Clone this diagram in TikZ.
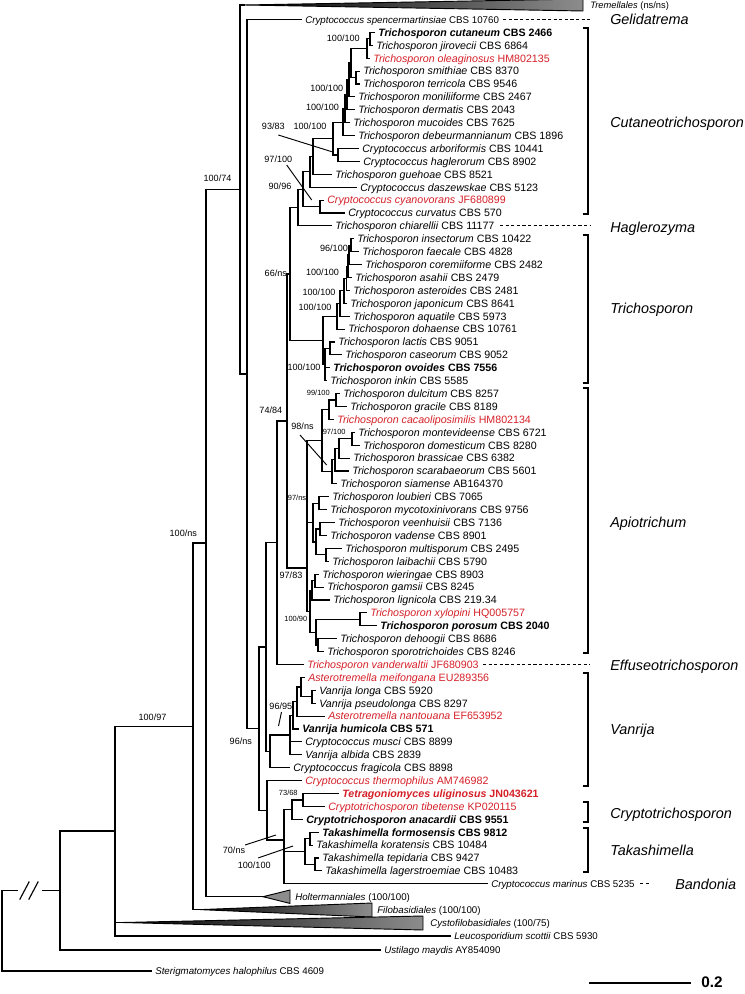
\documentclass[tikz,border=0pt]{standalone}
\usepackage{fontspec}
\setmainfont{Liberation Sans}
\usetikzlibrary{calc}
\definecolor{tred}{RGB}{213,32,40}
\newcommand\Lf[5][]{\coordinate (#2) at (#3,#4);\node[tl,#1] (#2l) at ([xshift=3pt,yshift=-2.9pt]#2) {#5};}
\newcommand\tn[2]{\textit{#1} #2}
\tikzset{
  tl/.style={anchor=base west,inner sep=0pt,font=\fontsize{8}{9.6}\selectfont},
  bf/.style={font=\fontsize{8}{9.6}\selectfont\bfseries},
  rd/.style={text=tred},
  sm/.style={font=\fontsize{7.3}{9}\selectfont},
  br/.style={line width=0.85pt,line cap=rect},
  bs/.style={inner sep=0pt,font=\fontsize{6.8}{8}\selectfont},
  bss/.style={inner sep=0pt,font=\fontsize{5.6}{7}\selectfont},
  ld/.style={line width=0.7pt},
  cl/.style={anchor=base west,inner sep=0pt,font=\fontsize{10.8}{12}\selectfont\itshape},
  dsh/.style={line width=0.6pt,dash pattern=on 2.4pt off 1.8pt},
  brk/.style={line width=0.8pt},
  tri/.style={line width=0.7pt,line join=miter},
}
\begin{document}
\begin{tikzpicture}[x=0.75pt,y=-0.75pt]
\useasboundingbox (0,0) rectangle (744,994);
% ---------- tips ----------
\Lf[sm]{t02}{301}{19.5}{\tn{Cryptococcus spencermartinsiae}{CBS 10760}}
\Lf[bf]{t03}{374}{32.4}{\tn{Trichosporon cutaneum}{CBS 2466}}
\Lf{t04}{372}{45.3}{\tn{Trichosporon jirovecii}{CBS 6864}}
\Lf[rd]{t05}{369}{58.2}{\tn{Trichosporon oleaginosus}{HM802135}}
\Lf{t06}{359}{71.1}{\tn{Trichosporon smithiae}{CBS 8370}}
\Lf{t07}{359}{84.0}{\tn{Trichosporon terricola}{CBS 9546}}
\Lf{t08}{354}{96.9}{\tn{Trichosporon moniliiforme}{CBS 2467}}
\Lf{t09}{354}{109.8}{\tn{Trichosporon dermatis}{CBS 2043}}
\Lf{t10}{349}{122.7}{\tn{Trichosporon mucoides}{CBS 7625}}
\Lf{t11}{354}{135.6}{\tn{Trichosporon debeurmannianum}{CBS 1896}}
\Lf{t12}{358}{148.5}{\tn{Cryptococcus arboriformis}{CBS 10441}}
\Lf{t13}{359}{161.4}{\tn{Cryptococcus haglerorum}{CBS 8902}}
\Lf{t14}{331}{174.3}{\tn{Trichosporon guehoae}{CBS 8521}}
\Lf{t15}{356}{187.2}{\tn{Cryptococcus daszewskae}{CBS 5123}}
\Lf[rd]{t16}{323}{200.1}{\tn{Cryptococcus cyanovorans}{JF680899}}
\Lf{t17}{344}{213.0}{\tn{Cryptococcus curvatus}{CBS 570}}
\Lf{t18}{331}{225.9}{\tn{Trichosporon chiarellii}{CBS 11177}}
\Lf{t19}{353}{238.8}{\tn{Trichosporon insectorum}{CBS 10422}}
\Lf{t20}{358}{251.7}{\tn{Trichosporon faecale}{CBS 4828}}
\Lf{t21}{361}{264.6}{\tn{Trichosporon coremiiforme}{CBS 2482}}
\Lf{t22}{351}{277.5}{\tn{Trichosporon asahii}{CBS 2479}}
\Lf{t23}{349}{290.4}{\tn{Trichosporon asteroides}{CBS 2481}}
\Lf{t24}{346}{303.3}{\tn{Trichosporon japonicum}{CBS 8641}}
\Lf{t25}{349}{316.2}{\tn{Trichosporon aquatile}{CBS 5973}}
\Lf{t26}{344}{329.1}{\tn{Trichosporon dohaense}{CBS 10761}}
\Lf{t27}{334}{342.0}{\tn{Trichosporon lactis}{CBS 9051}}
\Lf{t28}{341}{354.9}{\tn{Trichosporon caseorum}{CBS 9052}}
\Lf[bf]{t29}{329}{367.8}{\tn{Trichosporon ovoides}{CBS 7556}}
\Lf{t30}{326}{380.7}{\tn{Trichosporon inkin}{CBS 5585}}
\Lf{t31}{339}{393.6}{\tn{Trichosporon dulcitum}{CBS 8257}}
\Lf{t32}{346}{406.5}{\tn{Trichosporon gracile}{CBS 8189}}
\Lf[rd]{t33}{333}{419.4}{\tn{Trichosporon cacaoliposimilis}{HM802134}}
\Lf{t34}{354}{432.3}{\tn{Trichosporon montevideense}{CBS 6721}}
\Lf{t35}{359}{445.2}{\tn{Trichosporon domesticum}{CBS 8280}}
\Lf{t36}{349}{458.1}{\tn{Trichosporon brassicae}{CBS 6382}}
\Lf{t37}{348}{471.0}{\tn{Trichosporon scarabaeorum}{CBS 5601}}
\Lf{t38}{336}{483.9}{\tn{Trichosporon siamense}{AB164370}}
\Lf{t39}{328}{496.8}{\tn{Trichosporon loubieri}{CBS 7065}}
\Lf{t40}{326}{509.7}{\tn{Trichosporon mycotoxinivorans}{CBS 9756}}
\Lf{t41}{334}{522.6}{\tn{Trichosporon veenhuisii}{CBS 7136}}
\Lf{t42}{326}{535.5}{\tn{Trichosporon vadense}{CBS 8901}}
\Lf{t43}{341}{548.4}{\tn{Trichosporon multisporum}{CBS 2495}}
\Lf{t44}{328}{561.3}{\tn{Trichosporon laibachii}{CBS 5790}}
\Lf{t45}{318}{574.2}{\tn{Trichosporon wieringae}{CBS 8903}}
\Lf{t46}{323}{587.1}{\tn{Trichosporon gamsii}{CBS 8245}}
\Lf{t47}{329}{600.0}{\tn{Trichosporon lignicola}{CBS 219.34}}
\Lf[rd]{t48}{366}{612.9}{\tn{Trichosporon xylopini}{HQ005757}}
\Lf[bf]{t49}{376}{625.8}{\tn{Trichosporon porosum}{CBS 2040}}
\Lf{t50}{336}{638.7}{\tn{Trichosporon dehoogii}{CBS 8686}}
\Lf{t51}{323}{651.6}{\tn{Trichosporon sporotrichoides}{CBS 8246}}
\Lf[rd]{t52}{303}{664.5}{\tn{Trichosporon vanderwaltii}{JF680903}}
\Lf[rd]{t53}{304}{677.4}{\tn{Asterotremella meifongana}{EU289356}}
\Lf{t54}{315}{690.3}{\tn{Vanrija longa}{CBS 5920}}
\Lf{t55}{315}{703.2}{\tn{Vanrija pseudolonga}{CBS 8297}}
\Lf[rd]{t56}{324}{716.1}{\tn{Asterotremella nantouana}{EF653952}}
\Lf[bf]{t57}{298}{729.0}{\tn{Vanrija humicola}{CBS 571}}
\Lf{t58}{301}{741.9}{\tn{Cryptococcus musci}{CBS 8899}}
\Lf{t59}{301}{754.8}{\tn{Vanrija albida}{CBS 2839}}
\Lf{t60}{289}{767.7}{\tn{Cryptococcus fragicola}{CBS 8898}}
\Lf[rd]{t61}{301}{780.6}{\tn{Cryptococcus thermophilus}{AM746982}}
\Lf[bf,rd]{t62}{338}{793.5}{\tn{Tetragoniomyces uliginosus}{JN043621}}
\Lf[rd]{t63}{324}{806.4}{\tn{Cryptotrichosporon tibetense}{KP020115}}
\Lf[bf]{t64}{302}{819.3}{\tn{Cryptotrichosporon anacardii}{CBS 9551}}
\Lf[bf]{t65}{318}{832.2}{\tn{Takashimella formosensis}{CBS 9812}}
\Lf{t66}{312}{845.1}{\tn{Takashimella koratensis}{CBS 10484}}
\Lf{t67}{318}{858.0}{\tn{Takashimella tepidaria}{CBS 9427}}
\Lf{t68}{321}{870.9}{\tn{Takashimella lagerstroemiae}{CBS 10483}}
\Lf[sm]{t69}{487}{883.8}{\tn{Cryptococcus marinus}{CBS 5235}}
\Lf[sm]{t73}{450}{936.0}{\tn{Leucosporidium scottii}{CBS 5930}}
\Lf[sm]{t74}{380}{950.0}{\tn{Ustilago maydis}{AY854090}}
\Lf[sm]{t75}{151}{971.0}{\tn{Sterigmatomyces halophilus}{CBS 4609}}
% ---------- collapsed clades ----------
\coordinate (tre) at (244,5);
\shade[left color=black,right color=black!45] (tre) -- (583,-1) -- (583,11) -- cycle;
\draw[tri] (tre) -- (583,-1) -- (583,11) -- cycle;
\node[tl,sm,font=\fontsize{7}{8}\selectfont] (trel) at ([yshift=-2.5pt]590,5) {\tn{Tremellales}{(ns/ns)}};
\coordinate (hol) at (263,896.7);
\filldraw[tri,fill=black!45] (hol) -- (290,890) -- (290,903.4) -- cycle;
\node[tl,sm] (holl) at ([yshift=-2.6pt]295,896.7) {\tn{Holtermanniales}{(100/100)}};
\coordinate (filo) at (200,909.6);
\shade[left color=black,right color=black!45] (filo) -- (372,903) -- (372,917) -- cycle;
\draw[tri] (filo) -- (372,903) -- (372,917) -- cycle;
\node[tl,sm] (filol) at ([yshift=-2.6pt]377,910) {\tn{Filobasidiales}{(100/100)}};
\coordinate (cys) at (122,922.5);
\shade[left color=black,right color=black!45] (cys) -- (423,916) -- (423,930) -- cycle;
\draw[tri] (cys) -- (423,916) -- (423,930) -- cycle;
\node[tl,sm] (cysl) at ([yshift=-2.6pt]430,923) {\tn{Cystofilobasidiales}{(100/75)}};
% ---------- internal nodes ----------
\coordinate (C1a) at (370,38.85);
\coordinate (C1) at (367,48.5);
\coordinate (C2) at (356,77.55);
\coordinate (C3) at (351,63);
\coordinate (C4) at (349,80);
\coordinate (C5) at (347,94.9);
\coordinate (C6) at (345,108.8);
\coordinate (C7) at (343,122.2);
\coordinate (C8) at (338,155);
\coordinate (C9) at (333,138.6);
\coordinate (C10) at (313,156.5);
\coordinate (C11) at (310,171.8);
\coordinate (C12) at (320,206.5);
\coordinate (C13) at (303,189.2);
\coordinate (C14) at (298,207.5);
\coordinate (T1) at (351,245.25);
\coordinate (T2) at (349,254.9);
\coordinate (T3) at (348,266.2);
\coordinate (T4) at (346.5,278.3);
\coordinate (T5) at (344,290.8);
\coordinate (T6) at (340,303.5);
\coordinate (T7) at (337,316.3);
\coordinate (T8) at (330,348.5);
\coordinate (T9) at (325,364.6);
\coordinate (T10) at (323,340.5);
\coordinate (N66) at (290,274);
\coordinate (A1) at (336,400);
\coordinate (A2) at (329,409.7);
\coordinate (A3) at (352,438.75);
\coordinate (A4) at (339,448.4);
\coordinate (A5) at (335,459.7);
\coordinate (A6) at (332,471.8);
\coordinate (A7) at (322,440.8);
\coordinate (A8) at (319,503.25);
\coordinate (A9) at (320,529.05);
\coordinate (A10) at (326,554.85);
\coordinate (A11) at (316,542);
\coordinate (A12) at (313,522.6);
\coordinate (A13) at (315,580.65);
\coordinate (A14) at (312,590.3);
\coordinate (A15) at (360,619.35);
\coordinate (A16) at (318,645.15);
\coordinate (A17) at (316,632.25);
\coordinate (A18) at (310,611.3);
\coordinate (Ap) at (307,568);
\coordinate (N287) at (287,421);
\coordinate (N74) at (277,542.75);
\coordinate (V1) at (312,696.75);
\coordinate (V2) at (301,687);
\coordinate (V3) at (297,701.5);
\coordinate (V4) at (293,715.25);
\coordinate (V5) at (290,735);
\coordinate (NV) at (270,751.4);
\coordinate (NB) at (266,647);
\coordinate (Cr1) at (303,799.95);
\coordinate (Cr) at (292,809.6);
\coordinate (Tk1) at (310,838.65);
\coordinate (Tk2) at (315,864.45);
\coordinate (Tk) at (305,851.55);
\coordinate (NM) at (284,840);
\coordinate (NCT) at (267,810.3);
\coordinate (X7) at (259,728.7);
\coordinate (X6) at (247,374);
\coordinate (X5) at (240,189.5);
\coordinate (X4) at (206,543);
\coordinate (X3) at (193,726.3);
\coordinate (X2) at (115,831);
\coordinate (X1) at (60,890.5);
\coordinate (R) at (2,930.75);
\coordinate (bk1) at (17,890.5);
\coordinate (bk2) at (43,890.5);
% ---------- branches ----------
\foreach \p/\c in {X5/tre,X5/X6,X6/t02,X6/X7,X7/NB,X7/NCT,NB/N74,NB/NV,N74/N287,N74/t52,
  N287/N66,N287/Ap,N66/C14,N66/T10,C14/C13,C14/t18,C13/C11,C13/C12,C11/C10,C11/t15,
  C10/C9,C10/t14,C9/C7,C9/C8,C8/t12,C8/t13,C7/C6,C7/t11,C6/C5,C6/t10,C5/C4,C5/t09,
  C4/C3,C4/t08,C3/C1,C3/C2,C2/t06,C2/t07,C1/C1a,C1/t05,C1a/t03,C1a/t04,C12/t16,C12/t17,
  T10/T7,T10/T9,T7/T6,T7/t26,T6/T5,T6/t25,T5/T4,T5/t24,T4/T3,T4/t23,T3/T2,T3/t22,
  T2/T1,T2/t21,T1/t19,T1/t20,T9/T8,T9/t29,T9/t30,T8/t27,T8/t28,
  Ap/A7,Ap/A12,Ap/A18,A7/A2,A7/A6,A2/A1,A2/t33,A1/t31,A1/t32,A6/A5,A6/t38,A5/A4,A5/t37,
  A4/A3,A4/t36,A3/t34,A3/t35,A12/A8,A12/A11,A8/t39,A8/t40,A11/A9,A11/A10,A9/t41,A9/t42,
  A10/t43,A10/t44,A18/A14,A18/A17,A14/A13,A14/t47,A13/t45,A13/t46,A17/A15,A17/A16,
  A15/t48,A15/t49,A16/t50,A16/t51,
  NV/V5,NV/t60,V5/V4,V5/t58,V5/t59,V4/V3,V4/t57,V3/V2,V3/t56,V2/t53,V2/V1,V1/t54,V1/t55,
  NCT/t61,NCT/NM,NM/Cr,NM/Tk,NM/t69,Cr/Cr1,Cr/t64,Cr1/t62,Cr1/t63,Tk/Tk1,Tk/Tk2,
  Tk1/t65,Tk1/t66,Tk2/t67,Tk2/t68,
  X4/X5,X4/hol,X3/X4,X3/filo,X2/X3,X2/cys,X2/t73,X1/X2,X1/t74,R/t75,R/bk1}
  {\draw[br] (\p) |- (\c);}
\draw[br] (bk2) -- (X1);
\draw[br] (20,899) -- (29,882);
\draw[br] (29,899) -- (38,882);
% ---------- support values ----------
\node[bs] (b01) at (343.3,38.3) {100/100};
\node[bs] (b02) at (326.7,88.3) {100/100};
\node[bs] (b03) at (322.5,107.3) {100/100};
\node[bs] (b04) at (273.3,126) {93/83};
\node[bs] (b05) at (310,126) {100/100};
\node[bs] (b06) at (278.3,159.3) {97/100};
\node[bs] (b07) at (280,186) {90/96};
\node[bs] (b08) at (334,248.3) {96/100};
\node[bs] (b09) at (275.8,273.3) {66/ns};
\node[bs] (b10) at (322.5,272.7) {100/100};
\node[bs] (b11) at (319,292.7) {100/100};
\node[bs] (b12) at (315,307.3) {100/100};
\node[bs] (b13) at (304,367.3) {100/100};
\node[bs] (b14) at (270.8,410) {74/84};
\node[bss] (b15) at (318.3,393.3) {99/100};
\node[bs] (b16) at (302.5,426.7) {98/ns};
\node[bss] (b17) at (334.2,432.3) {97/100};
\node[bss] (b18) at (297,497.5) {97/ns};
\node[bs] (b19) at (291,575) {97/83};
\node[bss] (b20) at (295.8,619) {100/90};
\node[bs] (b21) at (280.8,706) {96/95};
\node[bs] (b22) at (240.8,741.7) {96/ns};
\node[bss] (b23) at (288.3,793.3) {73/68};
\node[bs] (b24) at (234,850) {70/ns};
\node[bs] (b25) at (254.2,865) {100/100};
\node[bs] (b26) at (217.5,178.6) {100/74};
\node[bs] (b27) at (183.3,533) {100/ns};
\node[bs] (b28) at (152.5,716.8) {100/97};
% leaders
\coordinate (l1a) at (278.3,135); \coordinate (l1b) at (331.7,151.7);
\coordinate (l2a) at (286.7,165); \coordinate (l2b) at (311.7,200);
\coordinate (l3a) at (300,435);   \coordinate (l3b) at (326.7,465);
\coordinate (l4a) at (281.5,712); \coordinate (l4b) at (278.5,726);
\coordinate (l5a) at (245,845);   \coordinate (l5b) at (276,835);
\coordinate (l6a) at (258,858);   \coordinate (l6b) at (293,846);
\foreach \a/\b in {l1a/l1b,l2a/l2b,l3a/l3b,l4a/l4b,l5a/l5b,l6a/l6b} {\draw[ld] (\a) -- (\b);}
% ---------- clade names ----------
\node[cl] (gel) at ([yshift=-3.85pt]610,19) {Gelidatrema};
\node[cl] (cut) at ([yshift=-3.85pt]610,122) {Cutaneotrichosporon};
\node[cl] (hag) at ([yshift=-3.85pt]610,227) {Haglerozyma};
\node[cl] (tri) at ([yshift=-3.85pt]610,308) {Trichosporon};
\node[cl] (api) at ([yshift=-3.85pt]610,522) {Apiotrichum};
\node[cl] (eff) at ([yshift=-3.85pt]610,665) {Effuseotrichosporon};
\node[cl] (van) at ([yshift=-3.85pt]610,729) {Vanrija};
\node[cl] (cry) at ([yshift=-3.85pt]610,813) {Cryptotrichosporon};
\node[cl] (tak) at ([yshift=-3.85pt]610,850) {Takashimella};
\node[cl] (ban) at ([yshift=-3.85pt]675,884) {Bandonia};
% brackets
\draw[brk] (583,28) -- (588,28) -- (588,214) -- (583,214);
\draw[brk] (583,235) -- (588,235) -- (588,383) -- (583,383);
\draw[brk] (583,388) -- (588,388) -- (588,653) -- (583,653);
\draw[brk] (583,673) -- (588,673) -- (588,786) -- (583,786);
\draw[brk] (583,802) -- (588,802) -- (588,822) -- (583,822);
\draw[brk] (583,828) -- (588,828) -- (588,872) -- (583,872);
% dashed connectors
\draw[dsh] ($(t02l.east |- t02)+(3pt,0)$) -- (590,19.5);
\draw[dsh] ($(t18l.east |- t18)+(4pt,0)$) -- (590,225.9);
\draw[dsh] ($(t52l.east |- t52)+(3pt,0)$) -- (590,664.5);
\draw[dsh] ($(t69l.east |- t69)+(4pt,0)$) -- ++(8pt,0);
% scale bar
\coordinate (sb1) at (589,983); \coordinate (sb2) at (691,983);
\draw[line width=1.9pt] (sb1) -- (sb2);
\node[anchor=west,inner sep=0pt,font=\fontsize{11.5}{13}\selectfont\bfseries] (sbl) at (701,982) {0.2};
\end{tikzpicture}
\end{document}
